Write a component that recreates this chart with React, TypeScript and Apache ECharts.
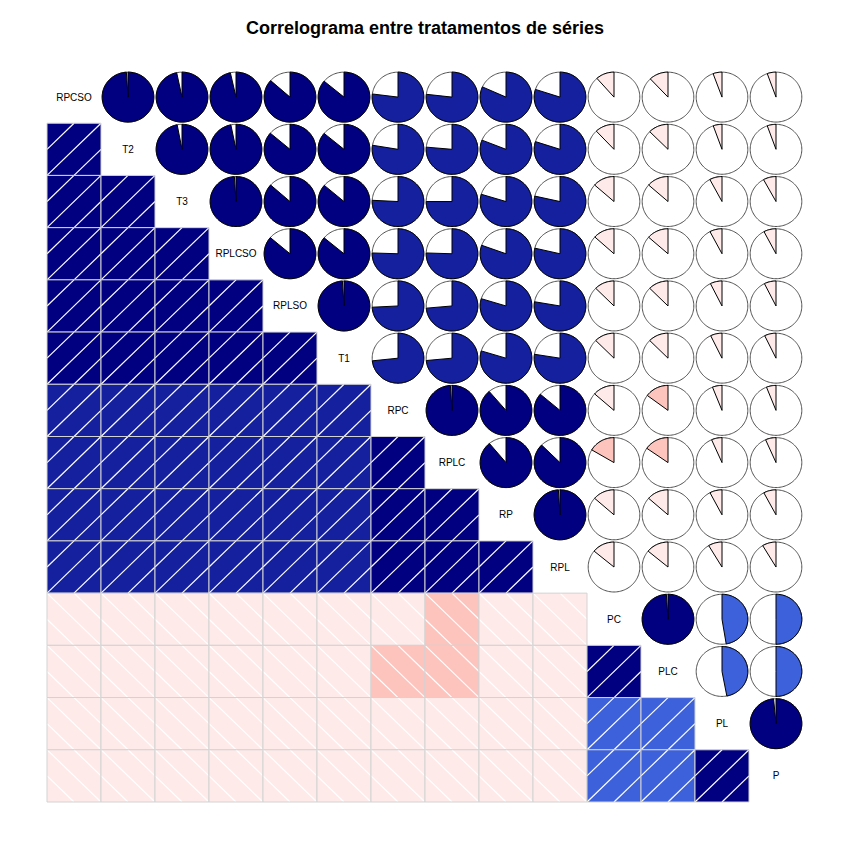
import React, { useEffect, useRef } from "react";
import * as echarts from "echarts";

// ---- DATA ----
const titleText = "Correlograma entre tratamentos de séries";

const variables = [
  "RPCSO", "T2", "T3", "RPLCSO", "RPLSO", "T1",
  "RPC", "RPLC", "RP", "RPL", "PC", "PLC", "PL", "P",
];

// Upper triangle of the correlation matrix: row i holds r(i, j) for j = i+1 .. 13
const corrRPCSO = [0.99, 0.967, 0.965, 0.865, 0.86, 0.77, 0.768, 0.817, 0.8, -0.115, -0.12, -0.056, -0.055];
const corrT2 = [0.97, 0.968, 0.862, 0.86, 0.776, 0.764, 0.81, 0.8, -0.12, -0.125, -0.055, -0.055];
const corrT3 = [0.99, 0.865, 0.862, 0.758, 0.75, 0.797, 0.785, -0.135, -0.135, -0.078, -0.08];
const corrRPLCSO = [0.862, 0.86, 0.755, 0.755, 0.805, 0.786, -0.133, -0.135, -0.077, -0.077];
const corrRPLSO = [0.99, 0.742, 0.736, 0.797, 0.777, -0.125, -0.125, -0.074, -0.074];
const corrT1 = [0.733, 0.735, 0.797, 0.775, -0.125, -0.125, -0.072, -0.072];
const corrRPC = [0.99, 0.887, 0.862, -0.135, -0.148, -0.06, -0.06];
const corrRPLC = [0.889, 0.874, -0.165, -0.153, -0.066, -0.066];
const corrRP = [0.99, -0.135, -0.135, -0.077, -0.078];
const corrRPL = [-0.14, -0.14, -0.086, -0.086];
const corrPC = [0.99, 0.474, 0.5];
const corrPLC = [0.47, 0.5];
const corrPL = [0.985];

const upperRows = [
  corrRPCSO, corrT2, corrT3, corrRPLCSO, corrRPLSO, corrT1, corrRPC,
  corrRPLC, corrRP, corrRPL, corrPC, corrPLC, corrPL,
];

// corrgram default colour ramp
const rampAnchors = ["#FF0000", "#FA8072", "#FFFFFF", "#4169E1", "#000080"];
const nColors = 14;

// ---- helpers ----
function corr(i: number, j: number): number {
  if (i === j) return 1;
  const a = Math.min(i, j);
  const b = Math.max(i, j);
  return upperRows[a][b - a - 1];
}

function hexToRgb(h: string): number[] {
  return [parseInt(h.slice(1, 3), 16), parseInt(h.slice(3, 5), 16), parseInt(h.slice(5, 7), 16)];
}

function buildPalette(n: number): string[] {
  const anchors = rampAnchors.map(hexToRgb);
  const out: string[] = [];
  for (let k = 0; k < n; k++) {
    const t = k / (n - 1);
    const pos = t * (anchors.length - 1);
    const seg = Math.min(anchors.length - 2, Math.floor(pos));
    const f = pos - seg;
    const c = anchors[seg].map((v, q) => Math.round(v + (anchors[seg + 1][q] - v) * f));
    out.push(`rgb(${c[0]},${c[1]},${c[2]})`);
  }
  return out;
}

const palette = buildPalette(nColors);

function colorFor(r: number): string {
  let k = Math.ceil(((r + 1) / 2) * nColors);
  if (k < 1) k = 1;
  if (k > nColors) k = nColors;
  return palette[k - 1];
}

const n = variables.length;
const shadeData: number[][] = [];
const pieData: number[][] = [];
const labelData: number[][] = [];
for (let i = 0; i < n; i++) {
  for (let j = 0; j < n; j++) {
    if (i === j) labelData.push([j, i]);
    else if (i > j) shadeData.push([j, i, corr(i, j)]);
    else pieData.push([j, i, corr(i, j)]);
  }
}

function cellRect(api: any) {
  const c = api.value(0);
  const r = api.value(1);
  const p0 = api.coord([c, r]);
  const p1 = api.coord([c + 1, r + 1]);
  return { x: p0[0], y: p0[1], w: p1[0] - p0[0], h: p1[1] - p0[1] };
}

export default function App() {
  const ref = useRef<HTMLDivElement>(null);

  useEffect(() => {
    if (!ref.current) return;
    const chart = echarts.init(ref.current, undefined, { renderer: "svg" });

    const option: any = {
      animation: false,
      backgroundColor: "#ffffff",
      title: {
        text: titleText,
        left: "center",
        top: 14,
        textStyle: {
          fontSize: 18,
          fontWeight: "bold",
          color: "#000",
          fontFamily: "Liberation Sans, Arial, sans-serif",
        },
      },
      grid: { left: 47, top: 71, width: 756, height: 731, containLabel: false },
      xAxis: { type: "value", min: 0, max: n, show: false },
      yAxis: { type: "value", min: 0, max: n, inverse: true, show: false },
      series: [
        {
          type: "custom",
          coordinateSystem: "cartesian2d",
          data: shadeData,
          silent: true,
          renderItem: (params: any, api: any) => {
            const { x, y, w, h } = cellRect(api);
            const r = api.value(2);
            const children: any[] = [
              { type: "rect", shape: { x, y, width: w, height: h }, style: { fill: colorFor(r), stroke: "none" } },
            ];
            const offs = [0.5, 0, -0.5];
            const pt = (u: number, v: number) =>
              r > 0 ? [x + u * w, y + (1 - v) * h] : [x + (1 - u) * w, y + (1 - v) * h];
            for (const c0 of offs) {
              const u1 = Math.max(0, -c0);
              const u2 = Math.min(1, 1 - c0);
              const a = pt(u1, u1 + c0);
              const b = pt(u2, u2 + c0);
              children.push({
                type: "line",
                shape: { x1: a[0], y1: a[1], x2: b[0], y2: b[1] },
                style: { stroke: "#ffffff", lineWidth: 1.2 },
              });
            }
            children.push({
              type: "rect",
              shape: { x, y, width: w, height: h },
              style: { fill: "none", stroke: "#D3D3D3", lineWidth: 1 },
            });
            return { type: "group", children };
          },
        },
        {
          type: "custom",
          coordinateSystem: "cartesian2d",
          data: pieData,
          silent: true,
          renderItem: (params: any, api: any) => {
            const { x, y, w, h } = cellRect(api);
            const r = api.value(2);
            const cx = x + w / 2;
            const cy = y + h / 2;
            const rx = 0.478 * w;
            const ry = 0.478 * h;
            const circ: number[][] = [];
            for (let k = 0; k < 120; k++) {
              const a = (k / 120) * Math.PI * 2;
              circ.push([cx + rx * Math.cos(a), cy - ry * Math.sin(a)]);
            }
            const children: any[] = [
              { type: "polygon", shape: { points: circ }, style: { fill: "none", stroke: "#505050", lineWidth: 1 } },
            ];
            const ar = Math.abs(r);
            if (ar > 0) {
              const steps = Math.max(2, Math.ceil(120 * ar));
              const sign = r > 0 ? -1 : 1;
              const pts: number[][] = [[cx, cy]];
              for (let k = 0; k <= steps; k++) {
                const a = Math.PI / 2 + sign * 2 * Math.PI * ar * (k / steps);
                pts.push([cx + rx * Math.cos(a), cy - ry * Math.sin(a)]);
              }
              children.push({
                type: "polygon",
                shape: { points: pts },
                style: { fill: colorFor(r), stroke: "#000000", lineWidth: 1 },
              });
            }
            return { type: "group", children };
          },
        },
        {
          type: "custom",
          coordinateSystem: "cartesian2d",
          data: labelData,
          silent: true,
          renderItem: (params: any, api: any) => {
            const { x, y, w, h } = cellRect(api);
            const idx = api.value(0);
            return {
              type: "text",
              x: x + w / 2,
              y: y + h / 2,
              style: {
                text: variables[idx],
                fill: "#000000",
                fontSize: 10,
                fontFamily: "Liberation Sans, Arial, sans-serif",
                align: "center",
                verticalAlign: "middle",
                textAlign: "center",
                textVerticalAlign: "middle",
              },
            };
          },
        },
      ],
    };

    chart.setOption(option);
    return () => chart.dispose();
  }, []);

  return (
    <div
      ref={ref}
      style={{ position: "fixed", left: 0, top: 0, width: 850, height: 850, background: "#fff" }}
    />
  );
}
